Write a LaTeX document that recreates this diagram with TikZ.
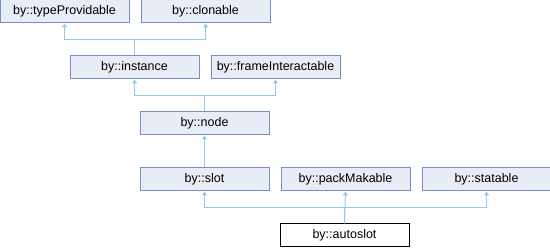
\documentclass[tikz,border=0pt]{standalone}
\usepackage{fontspec}
\setmainfont{Liberation Sans}
\usetikzlibrary{arrows.meta, positioning}
\definecolor{boxfill}{RGB}{232,236,244}
\definecolor{boxline}{RGB}{118,142,198}
\definecolor{edgeblue}{RGB}{146,200,232}

\begin{document}
\begin{tikzpicture}[
  x=1pt, y=-1pt,
  node distance=11pt,
  cls/.style={
    draw=boxline,
    line width=1pt,
    fill=boxfill,
    minimum width=129pt,
    minimum height=23pt,
    inner sep=0pt,
    font=\fontsize{12.5}{14}\selectfont
  },
  self/.style={cls, draw=black, fill=white},
  inh/.style={-{Triangle[length=4pt, width=5pt]}, line width=1pt, edgeblue}
]
\useasboundingbox (0,0) rectangle (550,248);
\node[cls] (typeprov) at (64.5,11.5) {by::typeProvidable};
\node[cls, right=of typeprov] (clonable) {by::clonable};
\node[cls] (instance) at (134.5,67.5) {by::instance};
\node[cls, right=of instance] (frameint) {by::frameInteractable};
\node[cls] (node) at (204.5,123.5) {by::node};
\node[cls] (slot) at (204.5,179.5) {by::slot};
\node[cls, right=of slot] (packmak) {by::packMakable};
\node[cls, right=of packmak] (statable) {by::statable};
\node[self] (autoslot) at (344.5,235.5) {by::autoslot};
% inheritance
\draw[inh] (instance.north) -- ++(0,-16) -| (typeprov.south);
\draw[inh] (instance.north) -- ++(0,-16) -| (clonable.south);
\draw[inh] (node.north) -- ++(0,-16) -| (instance.south);
\draw[inh] (node.north) -- ++(0,-16) -| (frameint.south);
\draw[inh] (slot.north) -- (node.south);
\draw[inh] (autoslot.north) -- ++(0,-16) -| (slot.south);
\draw[inh] (autoslot.north) -- (packmak.south);
\draw[inh] (autoslot.north) -- ++(0,-16) -| (statable.south);
\end{tikzpicture}
\end{document}
